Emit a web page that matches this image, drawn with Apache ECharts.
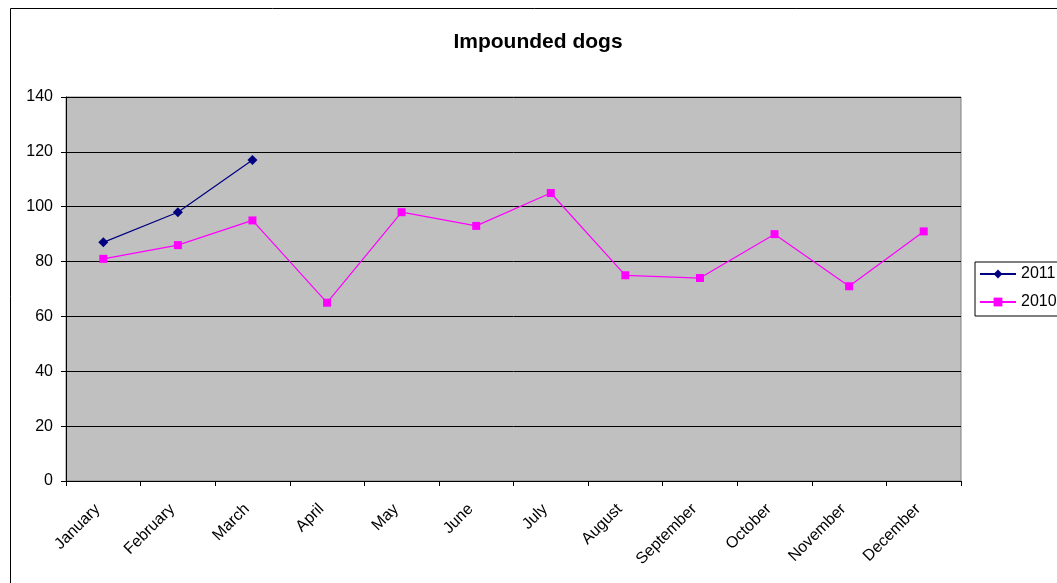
<!DOCTYPE html>
<html><head><meta charset="utf-8">
<script src="https://cdn.jsdelivr.net/npm/echarts@6/dist/echarts.min.js"></script>
<style>html,body{margin:0;padding:0;background:#fff;}#c{width:1057px;height:583px;}</style>
</head><body><div id="c"></div>
<script>
const months = ['January','February','March','April','May','June','July','August','September','October','November','December'];
const yTicks = [0,20,40,60,80,100,120,140];
const s2011 = [87,98,117];
const s2010 = [81,86,95,65,98,93,105,75,74,90,71,91];
const chart = echarts.init(document.getElementById('c'));
const font = 'Liberation Sans, Arial, sans-serif';
chart.setOption({
  animation:false,
  backgroundColor:'#fff',
  graphic:[{type:'rect',shape:{x:10.5,y:8.5,width:1060,height:590},style:{fill:'none',stroke:'#000',lineWidth:1},silent:true}],
  title:{text:'Impounded dogs',left:533,top:27,textAlign:'center',textStyle:{fontFamily:font,fontSize:21,fontWeight:'bold',color:'#000'}},
  legend:{orient:'vertical',left:975,top:262,itemGap:12,itemWidth:36,itemHeight:11,padding:[4,4,6,4],
    borderColor:'#000',borderWidth:1,backgroundColor:'#fff',
    textStyle:{fontFamily:font,fontSize:16,color:'#000'},data:['2011','2010']},
  grid:{left:66,top:97,width:895,height:384,show:true,backgroundColor:'#c0c0c0',borderColor:'#808080',borderWidth:1},
  xAxis:{type:'category',data:months,boundaryGap:true,
    axisLine:{lineStyle:{color:'#000'}},axisTick:{show:true,alignWithLabel:false,length:5,lineStyle:{color:'#000'}},
    axisLabel:{rotate:45,fontFamily:font,fontSize:16,color:'#000',margin:20,interval:0,padding:[0,8,0,0]}},
  yAxis:{type:'value',min:0,max:140,interval:20,
    axisLine:{show:true,lineStyle:{color:'#000'}},axisTick:{show:true,length:5,lineStyle:{color:'#000'}},
    splitLine:{lineStyle:{color:'#000',width:1}},
    axisLabel:{fontFamily:font,fontSize:16,color:'#000',margin:13}},
  series:[
    {name:'2011',type:'line',data:s2011,symbol:'diamond',symbolSize:10,itemStyle:{color:'#000080'},lineStyle:{color:'#000080',width:1.2}},
    {name:'2010',type:'line',data:s2010,symbol:'rect',symbolSize:8,itemStyle:{color:'#ff00ff'},lineStyle:{color:'#ff00ff',width:1.2}}
  ]
});
</script></body></html>
